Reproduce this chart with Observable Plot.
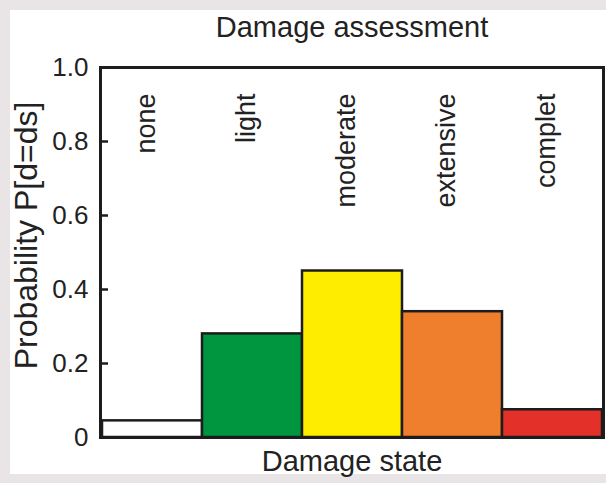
<!DOCTYPE html>
<html>
<head>
<meta charset="utf-8">
<script src="https://cdn.jsdelivr.net/npm/d3@7"></script>
<script src="https://cdn.jsdelivr.net/npm/@observablehq/plot@0.6"></script>
<style>
  html, body { margin: 0; padding: 0; }
  body { width: 606px; height: 483px; background: #e9e5e7; position: relative; overflow: hidden; }
  #panel { position: absolute; left: 10px; top: 10px; width: 596px; height: 464px; background: #ffffff; }
  #chart { position: absolute; left: 0; top: 0; }
</style>
</head>
<body>
<div id="panel"></div>
<div id="chart"></div>
<script>
const states = ["none", "light", "moderate", "extensive", "complet"];
const probs = [0.045, 0.28, 0.45, 0.34, 0.075];
const colors = ["#ffffff", "#00953f", "#ffed00", "#ef7f2c", "#e3312a"];
const yTicks = [0, 0.2, 0.4, 0.6, 0.8, 1.0];
const yTickLabels = ["0", "0.2", "0.4", "0.6", "0.8", "1.0"];
const title = "Damage assessment";
const xLabel = "Damage state";
const yLabel = "Probability P[d=ds]";

const data = states.map((s, i) => ({state: s, p: probs[i], color: colors[i]}));
const ink = "#1c1c1c";

const chart = Plot.plot({
  width: 606,
  height: 483,
  marginLeft: 100,
  marginRight: 3,
  marginTop: 67,
  marginBottom: 46,
  style: {background: "transparent", fontFamily: "'Liberation Sans', Arial, sans-serif", fontSize: "28px", color: "#222"},
  x: {type: "band", domain: states, padding: 0, axis: null},
  y: {domain: [0, 1], axis: null},
  marks: [
    Plot.barY(data, {x: "state", y: "p", fill: "color", stroke: ink, strokeWidth: 2.5}),
    Plot.ruleY(yTicks, {y: d => d, stroke: ink, strokeWidth: 2.5, insetRight: 495}),
    Plot.frame({stroke: ink, strokeWidth: 3}),
    Plot.axisY(yTicks, {tickSize: 0, tickPadding: 12, tickFormat: d => yTickLabels[yTicks.indexOf(d)], label: null, fontSize: 26, fill: "#222"}),
    Plot.text(states, {x: d => d, y: 1, rotate: -90, textAnchor: "end", dy: 26, dx: -6, fontSize: 27, fill: "#222"}),
    Plot.text([title], {frameAnchor: "top", text: d => d, dy: -51, fontSize: 29, fill: "#222"}),
    Plot.text([xLabel], {frameAnchor: "bottom", text: d => d, dy: 33, fontSize: 29, fill: "#222"}),
    Plot.text([yLabel], {frameAnchor: "left", text: d => d, rotate: -90, textAnchor: "middle", dx: -74, dy: -17, fontSize: 32, fill: "#222"})
  ]
});
document.getElementById("chart").appendChild(chart);
</script>
</body>
</html>
